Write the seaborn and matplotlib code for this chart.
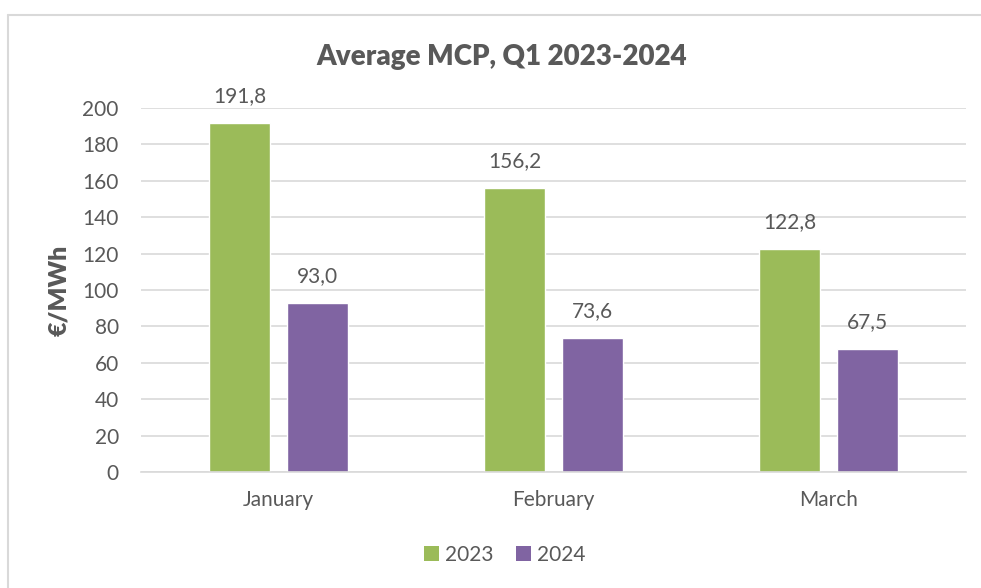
import matplotlib
matplotlib.use("Agg")
import matplotlib.pyplot as plt
import seaborn as sns
import pandas as pd
from matplotlib.lines import Line2D
from matplotlib.patches import Patch

months = ["January", "February", "March"]
years = ["2023", "2024"]
values_2023 = [191.8, 156.2, 122.8]
values_2024 = [93.0, 73.6, 67.5]
yticks = [0, 20, 40, 60, 80, 100, 120, 140, 160, 180, 200]
title = "Average MCP, Q1 2023-2024"
ylabel = "€/MWh"

df = pd.DataFrame({
    "month": months * 2,
    "year": [years[0]] * 3 + [years[1]] * 3,
    "value": values_2023 + values_2024,
})

sns.set_theme(style="white")
plt.rcParams["font.family"] = ["Lato", "DejaVu Sans"]
TXT = "#595959"
colors = {"2023": "#9BBB59", "2024": "#8064A2"}

fig = plt.figure(figsize=(9.81, 5.88), dpi=100)
ax = fig.add_axes([141/981, 1-472/588, 825/981, 364/588])

sns.barplot(data=df, x="month", y="value", hue="year", palette=colors,
            order=months, hue_order=years, width=0.567, gap=0.218,
            saturation=1, ax=ax, legend=False)

ax.set_xlim(-0.5, 2.5)
ax.set_ylim(0, 200)
ax.set_yticks(yticks)
ax.yaxis.grid(True, color="#D9D9D9", linewidth=1.2)
ax.set_axisbelow(True)
for s in ["top", "right", "left"]:
    ax.spines[s].set_visible(False)
ax.spines["bottom"].set_color("#D9D9D9")
ax.spines["bottom"].set_linewidth(1.2)
ax.tick_params(axis="y", length=0, pad=16, labelsize=15, labelcolor=TXT)
ax.tick_params(axis="x", length=0, pad=13, labelsize=15, labelcolor=TXT)
ax.set_xlabel("")
ax.set_ylabel("")

for cont in ax.containers:
    for bar in cont:
        h = bar.get_height()
        ax.annotate(f"{h:.1f}".replace(".", ","),
                    (bar.get_x() + bar.get_width()/2, h),
                    xytext=(0, 12), textcoords="offset points",
                    ha="center", va="bottom", fontsize=15, color=TXT)

fig.text(502/981, 1-57/588, title, ha="center", va="center",
         fontsize=20, fontweight="heavy", color=TXT)
fig.text(59/981, 1-290/588, ylabel, ha="center", va="center", rotation=90,
         fontsize=18, fontweight="heavy", color=TXT)

handles = [Patch(facecolor=colors[y], edgecolor="none") for y in years]
fig.legend(handles, years, loc="center", bbox_to_anchor=(505/981, 1-555/588),
           ncol=2, frameon=False, fontsize=15, labelcolor=TXT,
           handlelength=0.7, handleheight=0.7, handletextpad=0.3,
           columnspacing=1.1)

# outer chart border (top and left visible)
fig.add_artist(Line2D([8/981, 1], [1-15/588, 1-15/588], color="#D9D9D9",
                      linewidth=1.5, transform=fig.transFigure))
fig.add_artist(Line2D([8/981, 8/981], [0, 1-15/588], color="#D9D9D9",
                      linewidth=1.5, transform=fig.transFigure))

fig.savefig("out.png", dpi=100)
